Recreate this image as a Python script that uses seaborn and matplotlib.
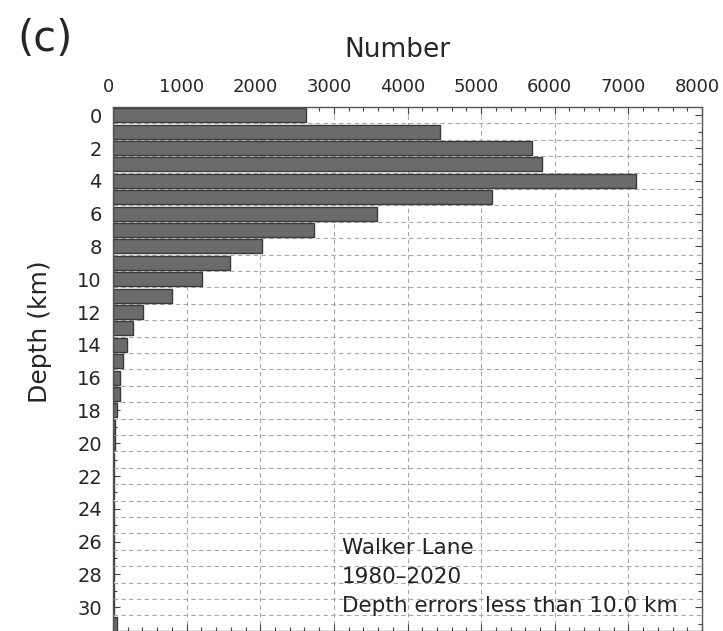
import numpy as np
import pandas as pd
import matplotlib
matplotlib.use("Agg")
import matplotlib.pyplot as plt
import matplotlib.transforms as mtransforms
import seaborn as sns

# Depth histogram values (1 km bins)
depth_km = list(range(32))
event_count = [2620, 4440, 5690, 5830, 7100, 5150, 3590, 2730, 2020, 1590,
               1210, 800, 410, 270, 190, 135, 95, 95, 50, 25,
               25, 20, 20, 18, 15, 15, 12, 10, 8, 8,
               8, 50]
x_ticks = list(range(0, 8001, 1000))
y_ticks = list(range(0, 31, 2))
notes = ["Walker Lane", "1980\u20132020", "Depth errors less than 10.0 km"]

df = pd.DataFrame({"depth": depth_km, "count": event_count})

sns.set_style("white")
plt.rcParams['font.family'] = ['DejaVu Sans']

fig = plt.figure(figsize=(7.23, 6.31), dpi=100)
ax = fig.add_axes([113 / 723, 0.0, 589 / 723, 524 / 631])

# dashed grid behind the bars
bin_edges = np.array(depth_km[:-1]) + 0.5
ax.hlines(bin_edges, 0, 8000, colors="#a8a8a8", linestyles=(0, (4, 3)), linewidth=0.8, zorder=0)
ax.vlines(x_ticks[1:-1], -0.5, 32, colors="#a8a8a8", linestyles=(0, (4, 3)), linewidth=0.8, zorder=0)

sns.barplot(data=df, x="count", y="depth", orient="h", native_scale=True,
            color="#6b6b6b", edgecolor="#3a3a3a", linewidth=1, width=0.85,
            saturation=1, ax=ax, zorder=2)

ax.set_xlim(0, 8000)
ax.set_ylim(31.45, -0.5)

ax.xaxis.tick_top()
ax.set_xticks(x_ticks)
ax.set_xticks(list(range(0, 8001, 200)), minor=True)
ax.set_yticks(y_ticks)
ax.set_yticklabels([str(t) for t in y_ticks])
ax.set_yticks(depth_km, minor=True)

ax.tick_params(which="both", direction="in", top=True, bottom=True, left=True, right=True,
               labeltop=True, labelbottom=False, color="#444444")
ax.tick_params(which="major", length=5, width=0.8)
ax.tick_params(which="minor", length=3, width=0.8)
ax.tick_params(axis="x", labelsize=13, pad=8)
ax.tick_params(axis="y", labelsize=14, pad=8)

# top labels sit a little left of their ticks in the original
shift = mtransforms.ScaledTranslation(-5 / 100, 0, fig.dpi_scale_trans)
for lab in ax.get_xticklabels():
    lab.set_transform(lab.get_transform() + shift)

ax.set_xlabel("")
ax.set_ylabel("")

for s in ax.spines.values():
    s.set_color("#555555")
    s.set_linewidth(1)

fig.text(397 / 723, 1 - 50 / 631, "Number", fontsize=19, ha="center", va="center")
fig.text(40 / 723, 1 - 332 / 631, "Depth (km)", rotation=90, fontsize=18,
         ha="center", va="center")
fig.text(17 / 723, 1 - 39 / 631, "(c)", fontsize=30, ha="left", va="center")

for i, line in enumerate(notes):
    ax.text(3110, 26.4 + 1.75 * i, line, fontsize=15.5, ha="left", va="center",
            color="#222222", zorder=3)

fig.savefig("out.png", dpi=100)
plt.close(fig)
